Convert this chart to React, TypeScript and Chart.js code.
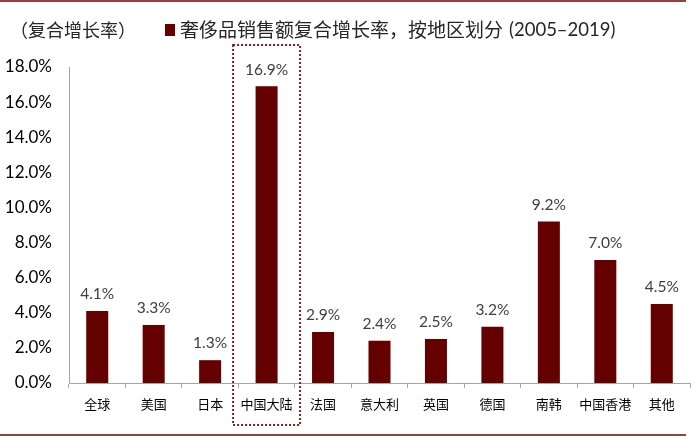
import React, { useEffect, useRef } from "react";
import { Chart, registerables } from "chart.js";

Chart.register(...registerables);

const categories = ["全球", "美国", "日本", "中国大陆", "法国", "意大利", "英国", "德国", "南韩", "中国香港", "其他"];
const values = [4.1, 3.3, 1.3, 16.9, 2.9, 2.4, 2.5, 3.2, 9.2, 7.0, 4.5];
const legendLabel = "奢侈品销售额复合增长率，按地区划分";
const legendYears = "(2005–2019)";
const axisTitle = "（复合增长率）";
const highlightIndex = 3;

const BAR = "#640000";
const LATIN = "Lato, 'Noto Sans CJK SC', sans-serif";
const CJK = "'Noto Sans CJK SC', sans-serif";

const decorPlugin = {
  id: "decor",
  afterDatasetsDraw(chart: any) {
    const ctx = chart.ctx;
    const meta = chart.getDatasetMeta(0);
    const xs = chart.scales.x;
    ctx.save();
    // value labels
    ctx.fillStyle = "#404040";
    ctx.font = `15.5px ${LATIN}`;
    ctx.textAlign = "center";
    ctx.textBaseline = "bottom";
    meta.data.forEach((bar: any, i: number) => {
      ctx.fillText(values[i].toFixed(1) + "%", bar.x, bar.y - 9);
    });
    // dotted highlight box
    const cx = xs.getPixelForValue(highlightIndex);
    const half = 33.5;
    ctx.strokeStyle = "#8b1a1a";
    ctx.lineWidth = 2;
    ctx.setLineDash([2, 2]);
    ctx.strokeRect(cx - half, 45, half * 2, 380);
    ctx.setLineDash([]);
    // top & bottom rules
    ctx.strokeStyle = "#7a0000";
    ctx.lineWidth = 1.5;
    ctx.beginPath();
    ctx.moveTo(0, 1);
    ctx.lineTo(686, 1);
    ctx.moveTo(0, 435);
    ctx.lineTo(686, 435);
    ctx.stroke();
    // header: axis title + legend
    ctx.textAlign = "left";
    ctx.textBaseline = "middle";
    ctx.fillStyle = "#262626";
    ctx.font = `18px ${CJK}`;
    ctx.fillText(axisTitle, 10, 30);
    ctx.fillStyle = BAR;
    ctx.fillRect(165, 24, 10, 12);
    ctx.fillStyle = "#262626";
    ctx.font = `19px ${CJK}`;
    ctx.fillText(legendLabel, 180, 30);
    const w = ctx.measureText(legendLabel).width;
    ctx.font = `18.5px ${LATIN}`;
    ctx.fillText(legendYears, 180 + w + 6, 30);
    ctx.restore();
  },
};

export default function App() {
  const ref = useRef<HTMLCanvasElement | null>(null);
  useEffect(() => {
    if (!ref.current) return;
    const chart = new Chart(ref.current, {
      type: "bar",
      data: {
        labels: categories,
        datasets: [
          {
            data: values,
            backgroundColor: BAR,
            barPercentage: 0.78,
            categoryPercentage: 0.5,
          },
        ],
      },
      options: {
        responsive: false,
        animation: false,
        layout: { padding: { top: 67, left: 0, right: 10, bottom: 0 } },
        plugins: { legend: { display: false }, tooltip: { enabled: false } },
        scales: {
          x: {
            grid: {
              display: true,
              drawOnChartArea: false,
              drawTicks: true,
              tickLength: 5,
              color: "#a6a6a6",
            },
            border: { display: true, color: "#a6a6a6" },
            ticks: {
              color: "#000",
              font: { family: CJK, size: 13 },
              padding: 8,
              maxRotation: 0,
              minRotation: 0,
              autoSkip: false,
            },
            afterFit(scale: any) {
              scale.height = 54;
            },
          },
          y: {
            min: 0,
            max: 18,
            grid: { display: false, drawTicks: false },
            border: { display: true, color: "#a6a6a6" },
            ticks: {
              stepSize: 2,
              color: "#000",
              font: { family: LATIN, size: 17 },
              padding: 17,
              callback: (v: any) => Number(v).toFixed(1) + "%",
            },
            afterFit(scale: any) {
              scale.width = 69;
            },
          },
        },
      },
      plugins: [decorPlugin],
    });
    return () => chart.destroy();
  }, []);
  return (
    <div style={{ position: "fixed", left: 0, top: 0, width: 700, height: 437, background: "#fff" }}>
      <canvas ref={ref} width={700} height={437} />
    </div>
  );
}
